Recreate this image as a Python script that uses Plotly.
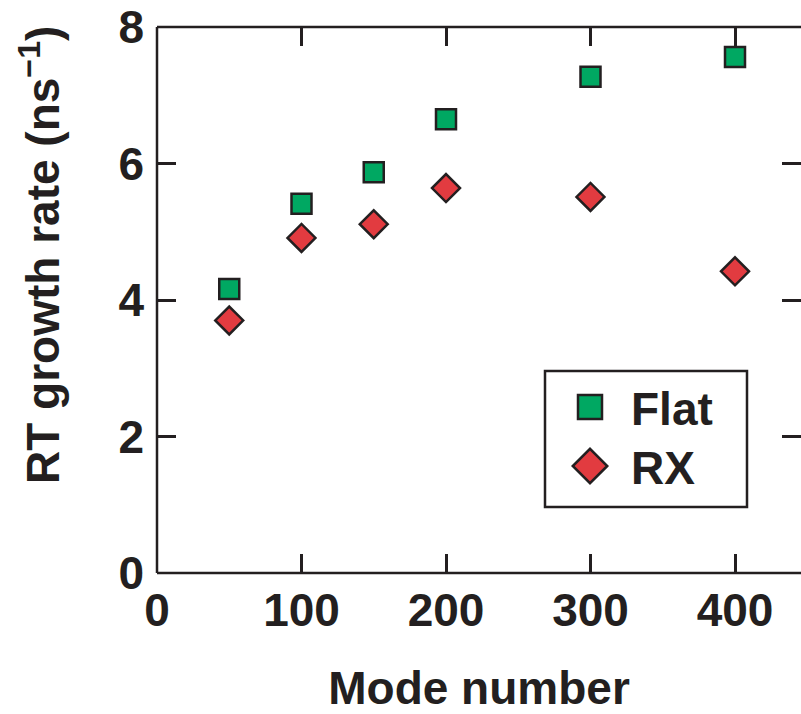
import plotly.graph_objects as go

# ---- data ----
mode_number = [50, 100, 150, 200, 300, 400]
flat_rate = [4.16, 5.41, 5.87, 6.65, 7.27, 7.56]
rx_rate = [3.70, 4.91, 5.11, 5.64, 5.51, 4.42]
series_names = ["Flat", "RX"]
x_ticks = [0, 100, 200, 300, 400]
y_ticks = [0, 2, 4, 6, 8]

INK = "#231F20"
GREEN = "#00A862"
RED = "#E23B40"
FONT = "Liberation Sans, Arial, Helvetica, sans-serif"

W, H = 801, 714
ML, MR, MT, MB = 157, 0, 27, 141
PW, PH = W - ML - MR, H - MT - MB

fig = go.Figure()
fig.add_trace(go.Scatter(
    x=mode_number, y=flat_rate, mode="markers", name=series_names[0],
    marker=dict(symbol="square", size=20, color=GREEN, line=dict(color=INK, width=2.5)),
    showlegend=False, cliponaxis=False))
fig.add_trace(go.Scatter(
    x=mode_number, y=rx_rate, mode="markers", name=series_names[1],
    marker=dict(symbol="diamond", size=21.5, color=RED, line=dict(color=INK, width=2.5)),
    showlegend=False, cliponaxis=False))

# custom legend (symbols on an invisible overlay axis in 0..1 frame units)
def px_x(p):
    return (p - ML) / PW

def px_y(p):
    return (H - MB - p) / PH

fig.add_trace(go.Scatter(
    x=[px_x(590)], y=[px_y(407)], xaxis="x2", yaxis="y2", mode="markers",
    marker=dict(symbol="square", size=24, color=GREEN, line=dict(color=INK, width=2.5)),
    showlegend=False, hoverinfo="skip", cliponaxis=False))
fig.add_trace(go.Scatter(
    x=[px_x(590)], y=[px_y(466)], xaxis="x2", yaxis="y2", mode="markers",
    marker=dict(symbol="diamond", size=26.5, color=RED, line=dict(color=INK, width=2.5)),
    showlegend=False, hoverinfo="skip", cliponaxis=False))

tickfont = dict(family=FONT, size=46, color=INK, weight="bold")

fig.update_layout(
    width=W, height=H,
    margin=dict(l=ML, r=MR, t=MT, b=MB, pad=0),
    paper_bgcolor="white", plot_bgcolor="white",
    showlegend=False,
    xaxis=dict(
        range=[0, PW / 1.445], tickvals=x_ticks, ticktext=[str(v) for v in x_ticks],
        ticks="inside", ticklen=19, tickwidth=2.5, tickcolor=INK,
        showline=False, mirror="ticks", showgrid=False, zeroline=False,
        tickfont=tickfont, ticklabelstandoff=6,
        title=dict(text="Mode number", font=dict(family=FONT, size=46, color=INK, weight="bold"), standoff=42),
    ),
    yaxis=dict(
        range=[0, 8], tickvals=y_ticks, ticktext=[str(v) for v in y_ticks],
        ticks="inside", ticklen=19, tickwidth=2.5, tickcolor=INK,
        showline=False, mirror="ticks", showgrid=False, zeroline=False,
        tickfont=tickfont, ticklabelstandoff=12,
    ),
    xaxis2=dict(overlaying="x", range=[0, 1], visible=False),
    yaxis2=dict(overlaying="y", range=[0, 1], visible=False),
)

frame = dict(color=INK, width=2.5)
fig.add_shape(type="line", xref="paper", yref="paper", x0=0, x1=0, y0=0, y1=1, line=frame)
fig.add_shape(type="line", xref="paper", yref="paper", x0=0, x1=1.01, y0=0, y1=0, line=frame)
fig.add_shape(type="line", xref="paper", yref="paper", x0=0, x1=1.01, y0=1, y1=1, line=frame)
# legend box
fig.add_shape(type="rect", xref="paper", yref="paper",
              x0=px_x(545), x1=px_x(747), y0=px_y(507), y1=px_y(371),
              line=frame, fillcolor="rgba(0,0,0,0)")

legfont = dict(family=FONT, size=46, color=INK, weight="bold")
fig.add_annotation(x=px_x(629), y=px_y(409), xref="paper", yref="paper", text=series_names[0],
                   showarrow=False, xanchor="left", yanchor="middle", font=legfont)
fig.add_annotation(x=px_x(629), y=px_y(468), xref="paper", yref="paper", text=series_names[1],
                   showarrow=False, xanchor="left", yanchor="middle", font=legfont)

# y-axis title
fig.add_annotation(x=px_x(40), y=px_y(255), xref="paper", yref="paper",
                   text="RT growth rate (ns<sup>−1</sup>)", textangle=-90,
                   showarrow=False, xanchor="center", yanchor="middle",
                   font=dict(family=FONT, size=46, color=INK, weight="bold"))

fig.write_html("out.html")
